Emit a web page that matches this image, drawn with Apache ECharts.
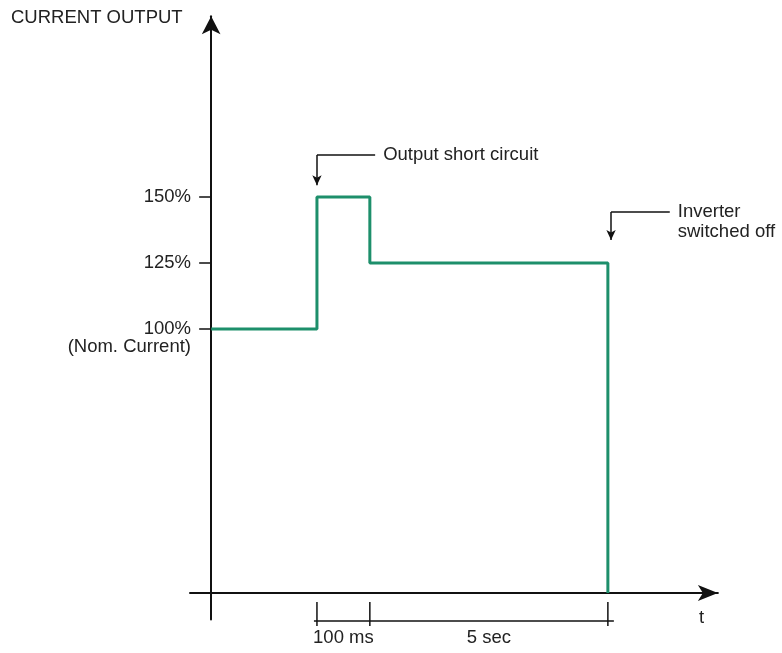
<!DOCTYPE html>
<html>
<head>
<meta charset="utf-8">
<script src="https://cdn.jsdelivr.net/npm/echarts@6/dist/echarts.min.js"></script>
<style>
  html, body { margin: 0; padding: 0; background: #fff; }
  #chart { width: 782px; height: 653px; }
</style>
</head>
<body>
<div id="chart"></div>
<script>
// ---- data (schematic) ----
const timePoints = [0, 2, 3, 7.5];          // schematic time positions of the events
const currentPct = [100, 150, 125, 0];      // output current level after each event (%)
const yTickValues = [100, 125, 150];
const yTickLabels = ['\n100%\n(Nom. Current)', '125%', '150%'];
const spanFrom = [2, 3];
const spanTo = [3, 7.5];
const spanLabels = ['100 ms', '5 sec'];
const eventTimes = [2, 7.5];
const eventTexts = ['Output short circuit', '\nInverter\nswitched off'];

const FONT = 'Liberation Sans, Arial, Helvetica, sans-serif';
const FS = 18.5;
const TXT = '#222';
const GREEN = '#1d8f6b';

const chart = echarts.init(document.getElementById('chart'), null, { renderer: 'canvas' });

const lineData = timePoints.map((t, i) => [t, currentPct[i]]);
const blackLine = { color: '#111', width: 1.5, type: 'solid' };

// annotation arrows
const annoLevels = [
  { bend: 165.9, tip: 154.5, xEnd: 3.1, xShift: 0 },
  { bend: 144.3, tip: 133.7, xEnd: 8.67, xShift: 0.06 }
];
const markData = [];
eventTimes.forEach((t, i) => {
  const a = annoLevels[i];
  const x = t + a.xShift;
  markData.push([
    { coord: [x, a.bend], symbol: 'none' },
    { coord: [a.xEnd, a.bend], symbol: 'none',
      label: { show: true, position: 'end', formatter: eventTexts[i], distance: 8,
               color: TXT, fontSize: FS, fontFamily: FONT, lineHeight: 20, align: 'left' } }
  ]);
  markData.push([
    { coord: [x, a.bend], symbol: 'none' },
    { coord: [x, a.tip], symbol: 'arrow', symbolSize: [7, 10] }
  ]);
});

const spanData = spanFrom.map((f, i) => [f, spanTo[i], i]);
const DIM_Y = -10.6, TICK_TOP = -3.4, TICK_BOT = -12.5;

function renderSpan(params, api) {
  const f = api.value(0), t = api.value(1), idx = api.value(2);
  const pF = api.coord([f, DIM_Y]);
  const pT = api.coord([t, DIM_Y]);
  const fTop = api.coord([f, TICK_TOP]), fBot = api.coord([f, TICK_BOT]);
  const tTop = api.coord([t, TICK_TOP]), tBot = api.coord([t, TICK_BOT]);
  const isFirst = params.dataIndex === 0;
  const isLast = params.dataIndex === spanData.length - 1;
  const children = [
    { type: 'line', shape: { x1: pF[0] - (isFirst ? 3 : 0), y1: pF[1], x2: pT[0] + (isLast ? 6 : 0), y2: pT[1] },
      style: { stroke: '#111', lineWidth: 1.5 } },
    { type: 'line', shape: { x1: tTop[0], y1: tTop[1], x2: tBot[0], y2: tBot[1] },
      style: { stroke: '#111', lineWidth: 1.5 } },
    { type: 'text', style: { text: spanLabels[idx], x: (pF[0] + pT[0]) / 2, y: pF[1] + 7,
      align: 'center', verticalAlign: 'top', fill: TXT, fontSize: FS, fontFamily: FONT } }
  ];
  if (isFirst) {
    children.push({ type: 'line', shape: { x1: fTop[0], y1: fTop[1], x2: fBot[0], y2: fBot[1] },
      style: { stroke: '#111', lineWidth: 1.5 } });
  }
  return { type: 'group', children: children };
}

chart.setOption({
  animation: false,
  backgroundColor: '#fff',
  title: {
    text: 'CURRENT OUTPUT',
    left: 6, top: 3,
    textStyle: { fontSize: FS, fontWeight: 'normal', color: TXT, fontFamily: FONT }
  },
  grid: { left: 190, right: 64.1, top: 16.2, bottom: 33.6 },
  xAxis: {
    type: 'value',
    min: -0.4, max: 9.58,
    splitLine: { show: false },
    axisTick: { show: false },
    axisLabel: { show: false },
    axisLine: { onZero: true, lineStyle: { color: '#111', width: 2 },
                symbol: ['none', 'arrow'], symbolSize: [12, 20] },
    name: 't',
    nameLocation: 'end',
    nameGap: -19,
    nameTextStyle: { color: TXT, fontSize: FS, fontFamily: FONT, verticalAlign: 'top', padding: [15, 0, 0, 0] }
  },
  yAxis: {
    type: 'value',
    min: -10, max: 218.5,
    splitLine: { show: false },
    axisLine: { onZero: true, lineStyle: { color: '#111', width: 2 },
                symbol: ['none', 'arrow'], symbolSize: [14, 18] },
    axisTick: { show: true, customValues: yTickValues, length: 12,
                lineStyle: { color: '#111', width: 1.5 } },
    axisLabel: {
      show: true, customValues: yTickValues, margin: -1,
      color: TXT, fontSize: FS, fontFamily: FONT, lineHeight: 18,
      formatter: function (v) {
        const i = yTickValues.indexOf(v);
        return i >= 0 ? yTickLabels[i] : '';
      }
    }
  },
  series: [{
    type: 'line',
    step: 'end',
    data: lineData,
    symbol: 'none',
    clip: false,
    lineStyle: { color: GREEN, width: 3 },
    markLine: {
      silent: true,
      animation: false,
      symbol: ['none', 'none'],
      lineStyle: blackLine,
      label: { show: false },
      emphasis: { disabled: true },
      data: markData
    }
  }, {
    type: 'custom',
    silent: true,
    clip: false,
    data: spanData,
    encode: { x: [0, 1] },
    renderItem: renderSpan
  }]
});
</script>
</body>
</html>
